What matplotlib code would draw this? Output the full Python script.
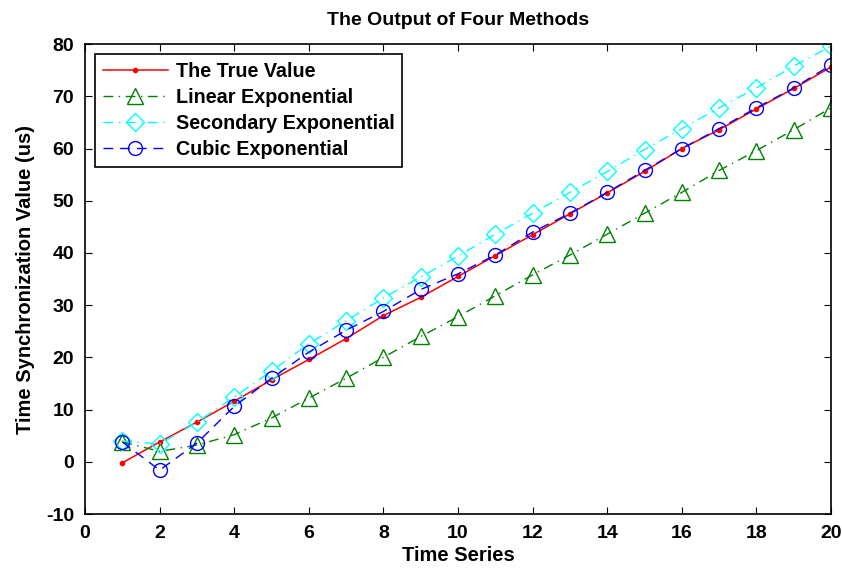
import matplotlib
matplotlib.use("Agg")
import matplotlib.pyplot as plt

plt.rcParams['font.family'] = ['Liberation Sans', 'DejaVu Sans']
plt.rcParams['font.weight'] = 'bold'
plt.rcParams['axes.unicode_minus'] = False

t = list(range(1, 21))
true_value = [-0.2, 3.8, 7.6, 11.6, 15.7, 19.6, 23.6, 28.0, 31.5, 35.5,
              39.5, 43.5, 47.5, 51.5, 55.6, 60.0, 63.6, 67.6, 71.5, 75.6]
linear_exp = [3.8, 2.0, 3.2, 5.2, 8.4, 12.2, 16.0, 20.0, 24.0, 27.8,
              31.8, 35.8, 39.6, 43.6, 47.6, 51.6, 55.8, 59.6, 63.6, 67.8]
secondary_exp = [4.0, 3.4, 7.6, 12.4, 17.4, 22.6, 27.0, 31.4, 35.4, 39.4,
                 43.6, 47.6, 51.6, 55.6, 59.8, 63.8, 67.8, 71.6, 75.8, 79.6]
cubic_exp = [3.8, -1.6, 3.6, 10.6, 16.0, 21.0, 25.2, 28.8, 33.0, 36.0,
             39.6, 44.0, 47.6, 51.6, 55.8, 60.0, 63.8, 67.8, 71.6, 76.0]

fig = plt.figure(figsize=(8.42, 5.71), dpi=100)
ax = fig.add_axes([0.101, 0.0998, 0.886, 0.823])

ax.plot(t, true_value, '-', color='red', marker='.', markersize=6, lw=1.1,
        label='The True Value')
ax.plot(t, linear_exp, color='green', marker='^', markersize=11, mfc='none',
        lw=1.0, dashes=(7, 4, 1, 4), label='Linear Exponential')
ax.plot(t, secondary_exp, color='cyan', marker='D', markersize=9.5, mfc='none',
        lw=1.0, dashes=(7, 4, 1, 4), label='Secondary Exponential')
ax.plot(t, cubic_exp, color='blue', marker='o', markersize=10, mfc='none',
        lw=1.0, dashes=(7, 5), label='Cubic Exponential')

ax.set_xlim(0, 20)
ax.set_ylim(-10, 80)
ax.set_xticks(range(0, 21, 2))
ax.set_yticks(range(-10, 81, 10))
ax.tick_params(direction='in', top=True, right=True, labelsize=14, length=5, pad=8)
for s in ax.spines.values():
    s.set_linewidth(1.2)

ax.set_title('The Output of Four Methods', fontsize=14, fontweight='bold', pad=14)
ax.set_xlabel('Time Series', fontsize=14.5, fontweight='bold', labelpad=3)
ax.set_ylabel('Time Synchronization Value (us)', fontsize=14.5, fontweight='bold',
              labelpad=8)

leg = ax.legend(loc='upper left', fontsize=14.2, fancybox=False, edgecolor='black',
                framealpha=1, handlelength=3.3, handletextpad=0.4, borderpad=0.4,
                labelspacing=0.36, borderaxespad=0.5)
leg.get_frame().set_linewidth(1.2)

plt.savefig("out.png", dpi=100)
